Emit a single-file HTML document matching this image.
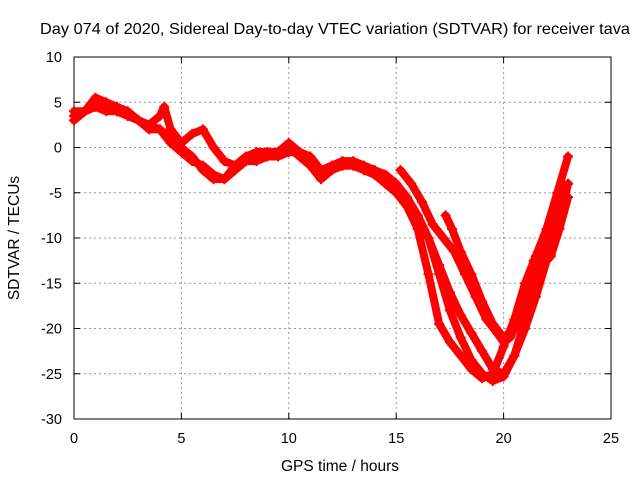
<!DOCTYPE html>
<html><head><meta charset="utf-8"><style>
body{margin:0;background:#fff;}
svg{display:block;font-family:"Liberation Sans",sans-serif;}
</style></head><body>
<svg id="chart" width="640" height="480">
<rect width="640" height="480" fill="#fff"/>
<text x="335" y="34" font-size="16" textLength="590" lengthAdjust="spacingAndGlyphs" text-anchor="middle">Day 074 of 2020, Sidereal Day-to-day VTEC variation (SDTVAR) for receiver tava</text>
<g id="grid"></g><g id="axes"></g><g id="marks"></g>
<text x="340" y="471" font-size="15.5" text-anchor="middle">GPS time / hours</text>
<text x="19" y="238" font-size="15.5" text-anchor="middle" transform="rotate(-90 19 238)">SDTVAR / TECUs</text>
</svg>
<script>
const xTicks=[0,5,10,15,20,25];
const yTicks=[10,5,0,-5,-10,-15,-20,-25,-30];
const s1x=[0,0.5,1,1.5,2,2.5,3,3.5,4,4.5,5,5.5,6,6.5,7,7.5,8,8.5,9,9.5,10,10.5,11,11.5,12,12.5,13,13.5,14,14.5,15,15.5,16,16.5,17,17.5,18,18.5,19,19.5,20,20.5,21,21.5,22,22.5,23];
const s1y=[3,4,5.5,5,4.5,4,3,2.5,2,0.5,-0.5,-1.5,-2,-3,-3.5,-2.5,-1.5,-1.5,-1,-1,-0.5,-0.5,-1.5,-3,-2.5,-2,-2,-2.5,-3,-4,-5,-6.5,-9,-14,-19.5,-21.5,-23,-24.5,-25.5,-25,-22,-19,-15,-12,-9,-5,-1];
const s2x=[0,0.5,1,1.5,2,2.5,3,3.5,4,4.5,5,5.5,6,6.5,7,7.5,8,8.5,9,9.5,10,10.5,11,11.5,12,12.5,13,13.5,14,14.5,15,15.5,16,16.5,17,17.5,18,18.5,19,19.5,20,20.5,21,21.5,22,22.5,23];
const s2y=[3.5,4,4.5,4.5,4,3.5,3,2,2,1,0,-1,-2.5,-3.5,-3.5,-2,-1.5,-1,-1,-0.5,0,-1,-2,-3.5,-2.5,-2,-2,-2.5,-3,-3.5,-4.5,-6,-7.5,-10,-14,-18,-21,-23.5,-25,-25.8,-25.3,-23,-20,-16.5,-12.5,-9,-4];
const s3x=[0,0.5,1,1.5,2,2.5,3,3.5,4,4.2,4.5,5,5.5,6,6.5,7,7.5,8,8.5,9,9.5,10,10.5,11,11.5,12,12.5,13,13.5,14,14.5,15,15.5,16,16.5,17,17.5,18,18.5,19,19.5,20,20.5,21,21.5,22,22.5,23];
const s3y=[4,4,4.5,4,4,3.5,3,2.5,3.5,4.5,2,0.5,1.5,2,0,-1.5,-2,-1,-0.5,-0.5,-0.5,0.5,-0.5,-1,-2.5,-2,-1.5,-1.5,-2,-2.5,-3,-4,-5.5,-7.5,-10,-13,-16,-18.5,-20.5,-22.5,-24.5,-25,-23,-19,-14,-10.5,-7,-4];
const s4x=[15.2,15.7,16.2,16.7,17.2,17.7,18.2,18.7,19.2,19.7,20,20.3,20.7,21,21.4,21.8,22.2,22.6,23];
const s4y=[-2.5,-4,-6,-8.5,-10,-11.5,-14,-16.5,-19,-20.5,-21.5,-21,-19,-16,-12.5,-13,-12,-9,-5.5];
const s5x=[17.3,17.6,18,18.5,19,19.5,20,20.5,21];
const s5y=[-7.5,-9,-11.5,-14,-17,-19.5,-21,-20,-17];
const series=[[s1x,s1y],[s2x,s2y],[s3x,s3y],[s4x,s4y],[s5x,s5y]];
const X=v=>74+v*(611-74)/25, Y=v=>57+(10-v)*(419-57)/40;
const NS="http://www.w3.org/2000/svg";
function mk(p,t,a){const e=document.createElementNS(NS,t);for(const k in a)e.setAttribute(k,a[k]);p.appendChild(e);return e;}
const grid=document.getElementById('grid'),axes=document.getElementById('axes'),marks=document.getElementById('marks');
mk(axes,'rect',{x:74,y:57,width:537,height:362,fill:'none',stroke:'#000','stroke-width':1});
xTicks.forEach(t=>{const x=X(t);
 if(t>0&&t<25){const g=mk(grid,'line',{x1:x,x2:x,y1:57,y2:419,stroke:'#999','stroke-dasharray':'2,3'});}
 mk(axes,'line',{x1:x,x2:x,y1:419,y2:413,stroke:'#000'});mk(axes,'line',{x1:x,x2:x,y1:57,y2:63,stroke:'#000'});
 const l=mk(axes,'text',{x:x,y:443,'font-size':14.5,'text-anchor':'middle'});l.textContent=t;
 });
yTicks.forEach(t=>{const y=Y(t);
 if(t>-30&&t<10){const g=mk(grid,'line',{x1:74,x2:611,y1:y,y2:y,stroke:'#999','stroke-dasharray':'2,3'});}
 mk(axes,'line',{x1:74,x2:80,y1:y,y2:y,stroke:'#000'});mk(axes,'line',{x1:605,x2:611,y1:y,y2:y,stroke:'#000'});
 const l=mk(axes,'text',{x:62,y:y+5,'font-size':14.5,'text-anchor':'end'});l.textContent=t;
 });
series.forEach(([xs,ys],i)=>{
 const pts=xs.map((v,j)=>X(v)+','+Y(ys[j])).join(' ');
 const pl=mk(marks,'polyline',{points:pts,fill:'none',stroke:'#f00','stroke-width':8,'stroke-linejoin':'round','stroke-linecap':'round'});
 
 
 xs.forEach((v,j)=>{const p=mk(marks,'path',{d:`M${X(v)-5},${Y(ys[j])}h10M${X(v)},${Y(ys[j])-5}v10`,stroke:'#f00','stroke-width':2});
  
  });
});
</script>
</body></html>
